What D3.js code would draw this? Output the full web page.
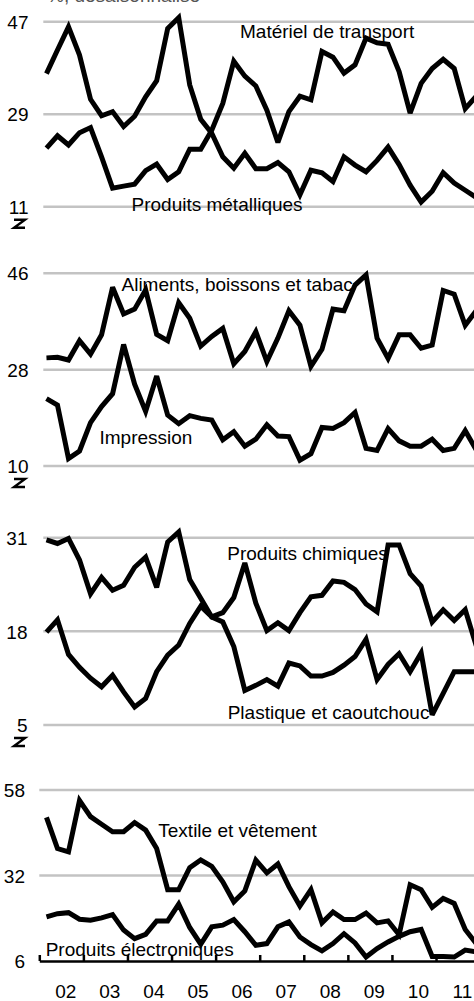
<!DOCTYPE html>
<html><head><meta charset="utf-8">
<script src="https://cdn.jsdelivr.net/npm/d3@7"></script>
<style>html,body{margin:0;padding:0;background:#fff;overflow:hidden}
text{font-family:"Liberation Sans",Arial,Helvetica,sans-serif;}</style>
</head><body><svg id="c" width="474" height="1001"></svg>
<script>
// ---- data (quarterly, 2002 T1 .. 2011 T4, last visible ~2011 T4) ----
const yearLabels = ["02","03","04","05","06","07","08","09","10","11"];
const years = [2002,2003,2004,2005,2006,2007,2008,2009,2010,2011];
const quarters = years.flatMap(y => ["T1","T2","T3","T4"].map(q => y + q));

const transport   = [22.4,24.8,23.0,25.4,26.4,20.7,14.6,15.0,15.4,18.0,19.3,16.3,17.8,22.2,22.2,25.9,31.1,39.3,36.4,34.5,29.8,23.5,29.5,32.5,31.8,41.2,40.1,37.0,38.6,43.8,42.9,42.6,37.3,29.2,35.0,37.9,39.7,37.9,30.1,32.5];
const metalliques = [36.9,41.5,46.0,40.5,31.9,28.7,29.5,26.6,28.6,32.4,35.5,45.7,47.8,34.7,28.0,25.3,20.7,18.5,21.4,18.4,18.4,19.6,17.8,13.3,18.1,17.6,15.9,20.7,19.1,17.8,20.0,22.6,19.2,15.2,11.9,14.0,17.6,15.6,14.2,12.8];
const aliments    = [30.2,30.3,29.8,33.4,30.9,34.5,43.4,38.4,39.3,42.9,34.6,33.4,40.5,37.6,32.4,34.2,35.7,29.1,31.4,35.1,29.5,33.9,39.0,36.3,28.6,31.8,39.3,39.0,43.8,45.7,33.9,30.1,34.5,34.5,32.0,32.6,42.8,42.1,36.3,39.0];
const impression  = [22.6,21.4,11.4,12.8,18.1,21.1,23.5,32.7,25.3,20.2,26.8,19.5,17.9,19.4,18.9,18.6,14.9,16.4,13.7,15.0,17.7,15.6,15.5,11.1,12.3,17.2,17.0,18.1,20.0,13.3,12.9,17.0,14.7,13.7,13.7,15.0,12.9,13.3,16.6,13.0];
const chimiques   = [17.9,19.6,14.8,13.0,11.5,10.3,11.9,9.6,7.5,8.7,12.4,14.7,16.1,19.1,21.5,20.0,20.6,22.7,27.5,21.9,18.1,19.2,18.1,20.6,22.8,23.0,25.0,24.8,23.8,21.8,20.7,30.0,30.0,26.0,24.3,19.3,21.0,19.5,21.0,16.0];
const plastique   = [30.7,30.2,30.9,27.9,23.2,25.5,23.7,24.4,26.9,28.3,24.1,30.4,31.8,25.2,22.6,20.0,19.3,15.9,9.8,10.5,11.3,10.4,13.6,13.2,11.8,11.8,12.3,13.3,14.5,16.9,11.3,13.4,14.9,12.4,15.0,6.4,9.4,12.4,12.4,12.4];
const textile     = [49.7,40.2,39.2,54.8,49.9,47.6,45.3,45.3,48.1,45.8,40.2,27.7,27.7,34.4,36.7,34.8,30.1,24.0,27.3,36.7,32.8,35.5,28.6,22.7,27.7,17.6,20.9,18.6,18.6,20.6,17.6,18.2,14.0,29.2,27.7,22.3,25.0,23.5,15.6,11.3];
const electro     = [19.4,20.4,20.7,18.7,18.4,19.1,20.1,15.4,12.8,14.1,18.2,18.2,23.3,16.2,11.1,16.4,16.9,18.6,14.9,10.8,11.3,16.4,17.9,13.3,11.0,9.1,11.3,14.3,11.5,7.2,9.8,11.8,13.5,14.9,15.6,7.4,7.4,7.2,9.3,8.8];

const ticks1 = [11,29,47];
const ticks2 = [10,28,46];
const ticks3 = [5,18,31];
const ticks4 = [6,32,58];

const labels1 = ["Matériel de transport","Produits métalliques"];
const labels2 = ["Aliments, boissons et tabac","Impression"];
const labels3 = ["Produits chimiques","Plastique et caoutchouc"];
const labels4 = ["Textile et vêtement","Produits électroniques"];
const subtitle = "%, désaisonnalisé";

// ---- layout ----
const svg = d3.select("#c");
svg.append("rect").attr("width",474).attr("height",1001).attr("fill","#fff");

const x = d3.scaleLinear().domain([2002, 2012]).range([39.3, 480.1]);
const qx = i => x(2002 + (i + 0.65) / 4);

const panels = [
  {ticks: ticks1, range:[206.7, 21.7], series:[transport, metalliques], labels: labels1,
   labelPos:[[240,38],[131.5,210.5]], tickX:28.5, gridX0:43.3, brk:true},
  {ticks: ticks2, range:[466, 273.3], series:[aliments, impression], labels: labels2,
   labelPos:[[121.5,291],[99.5,444.3]], tickX:28.5, gridX0:43.3, brk:true},
  {ticks: ticks3, range:[725, 537.7], series:[chimiques, plastique], labels: labels3,
   labelPos:[[227.3,560],[227.7,719]], tickX:27.5, gridX0:43.3, brk:true},
  {ticks: ticks4, range:[961, 790], series:[textile, electro], labels: labels4,
   labelPos:[[158.3,837.3],[45.7,956]], tickX:25, gridX0:39.3, brk:false}
];

// subtitle (cut off at the top edge in the reference)
svg.append("text").attr("x",47).attr("y",1.6).attr("font-size",19).attr("fill","#555").text(subtitle);

panels.forEach((p, pi) => {
  const y = d3.scaleLinear().domain([p.ticks[0], p.ticks[2]]).range(p.range);
  const g = svg.append("g");
  // gridlines
  g.selectAll("line.grid").data(pi === 3 ? p.ticks.slice(1) : p.ticks).join("line")
    .attr("x1", p.gridX0).attr("x2", 474)
    .attr("y1", d => y(d)).attr("y2", d => y(d))
    .attr("stroke", "#c3c3c3").attr("stroke-width", 2.5);
  // y axis labels
  const ax = d3.axisLeft(y).tickValues(p.ticks).tickSize(0).tickPadding(0);
  const ag = g.append("g").attr("transform", `translate(${p.tickX},0)`).call(ax);
  ag.select(".domain").remove();
  ag.selectAll("text").attr("font-size", 19).attr("font-family", null).attr("fill", "#000").attr("dy", "0.35em");
  // break marker
  if (p.brk) {
    const b = y(p.ticks[0]);
    g.append("path")
      .attr("d", `M14,${b+13} H25 L14,${b+21} H25`)
      .attr("fill","none").attr("stroke","#000").attr("stroke-width",2.4);
  }
  // lines
  const line = d3.line().x((d, i) => qx(i)).y(d => y(d));
  p.series.forEach(s => {
    g.append("path").datum(s).attr("d", line)
      .attr("fill","none").attr("stroke","#000").attr("stroke-width",5)
      .attr("stroke-linejoin","miter").attr("stroke-miterlimit",3);
  });
  // series labels
  p.labels.forEach((t, k) => {
    g.append("text").attr("x", p.labelPos[k][0]).attr("y", p.labelPos[k][1])
      .attr("font-size", 19).attr("fill", "#000").text(t);
  });
});

// bottom axis
const xa = d3.axisBottom(x).tickValues(years).tickSizeInner(-6).tickSizeOuter(0).tickFormat("");
const xg = svg.append("g").attr("transform","translate(0,961)").call(xa);
xg.select(".domain").attr("stroke","#000").attr("stroke-width",2.5);
xg.selectAll(".tick line").attr("stroke","#000").attr("stroke-width",2.5);
svg.selectAll("text.yr").data(years).join("text").attr("class","yr")
  .attr("x", d => x(d + 0.6)).attr("y", 998.3).attr("text-anchor","middle")
  .attr("font-size", 19).attr("fill","#000").text((d, i) => yearLabels[i]);
</script></body></html>
